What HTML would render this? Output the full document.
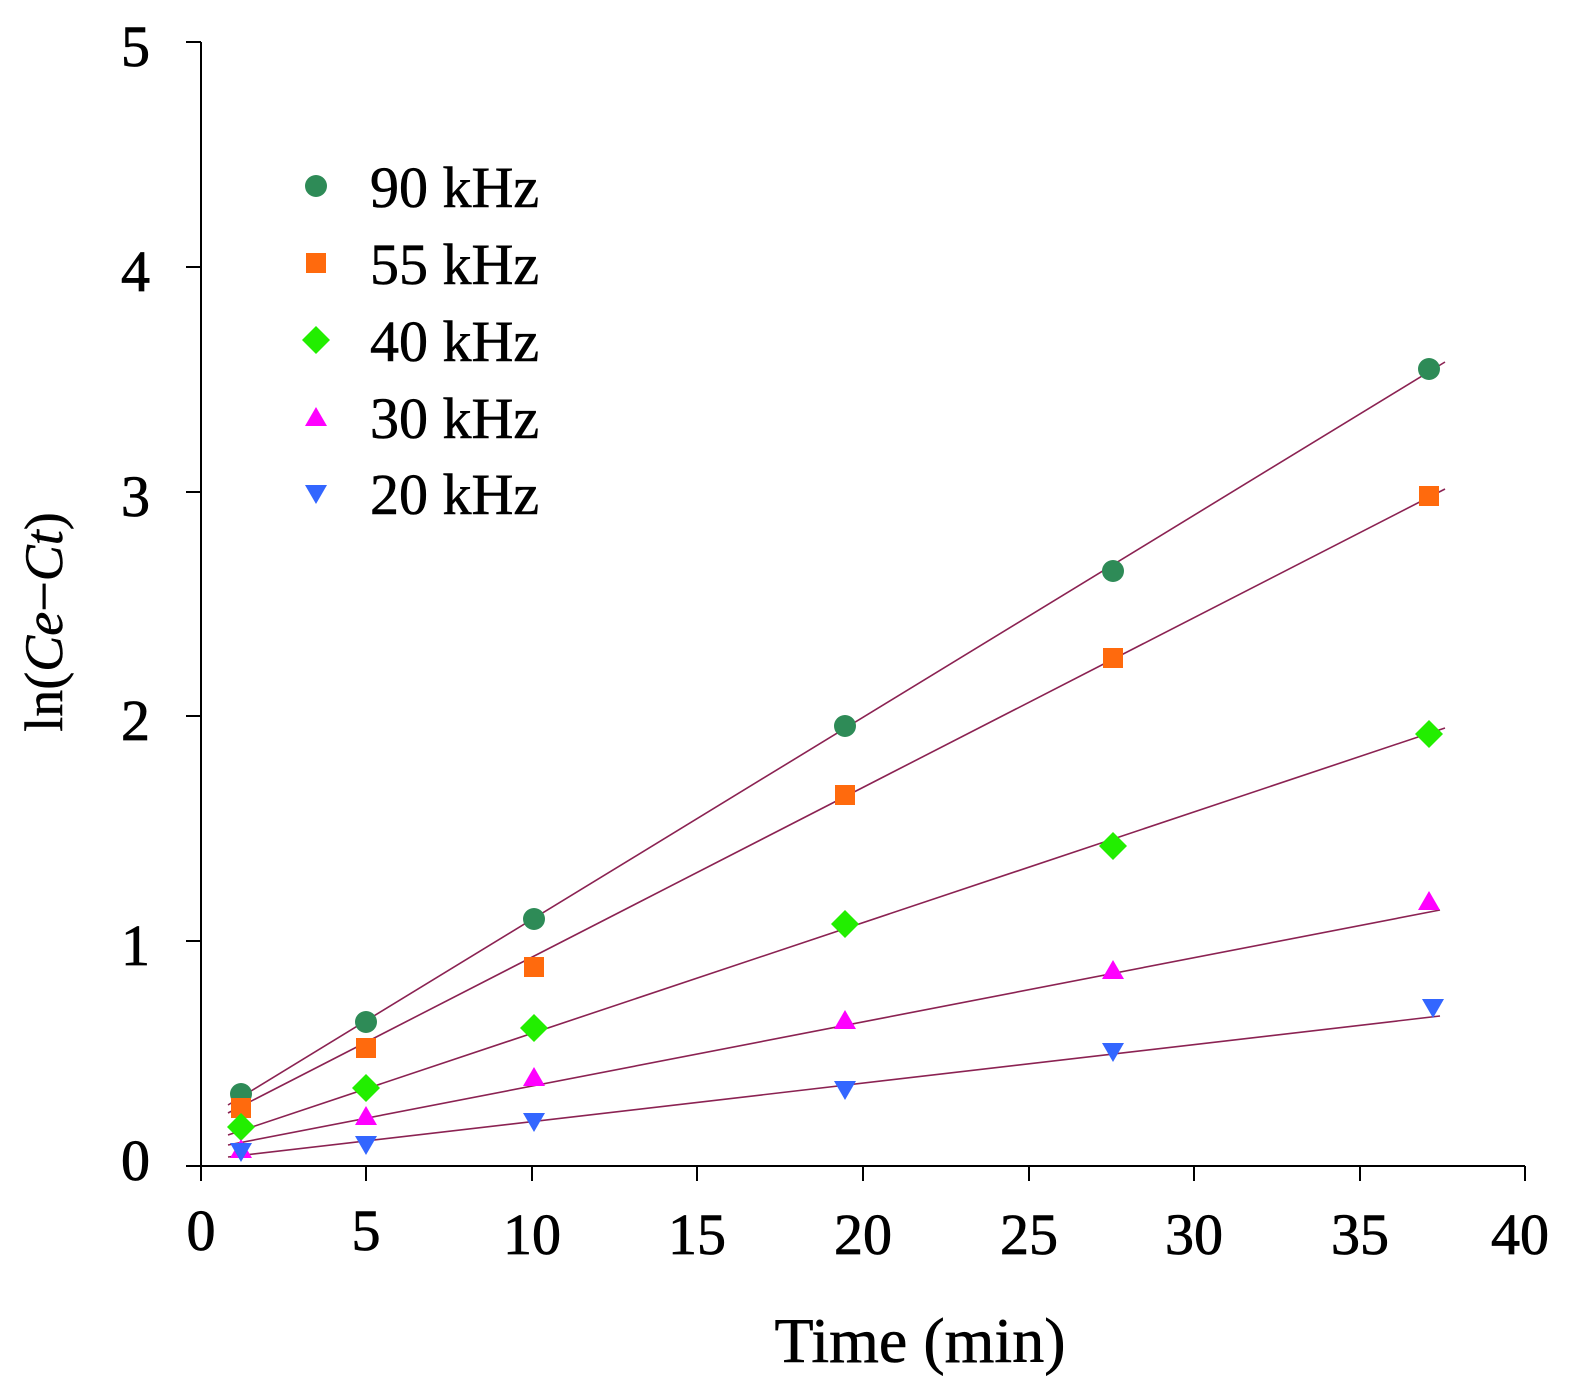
<!DOCTYPE html>
<html><head><meta charset="utf-8"><style>body{margin:0;background:#fff}svg{display:block}</style></head><body>
<svg width="1573" height="1388" xmlns="http://www.w3.org/2000/svg" font-family="Liberation Serif, serif">
<rect width="1573" height="1388" fill="#fff"/>
<g stroke="#000" stroke-width="2" fill="none">
<line x1="201" y1="42" x2="201" y2="1166"/>
<line x1="201" y1="1166" x2="1525" y2="1166"/>
<line x1="186" y1="42" x2="201" y2="42"/><line x1="186" y1="267" x2="201" y2="267"/><line x1="186" y1="492" x2="201" y2="492"/><line x1="186" y1="716" x2="201" y2="716"/><line x1="186" y1="941" x2="201" y2="941"/><line x1="186" y1="1166" x2="201" y2="1166"/>
<line x1="201" y1="1166" x2="201" y2="1181"/><line x1="366" y1="1166" x2="366" y2="1181"/><line x1="532" y1="1166" x2="532" y2="1181"/><line x1="697" y1="1166" x2="697" y2="1181"/><line x1="863" y1="1166" x2="863" y2="1181"/><line x1="1029" y1="1166" x2="1029" y2="1181"/><line x1="1194" y1="1166" x2="1194" y2="1181"/><line x1="1360" y1="1166" x2="1360" y2="1181"/><line x1="1525" y1="1166" x2="1525" y2="1181"/>
</g>
<g font-size="58" text-anchor="end" stroke="#000" stroke-width="0.8">
<text x="150" y="66">5</text><text x="150" y="291">4</text><text x="150" y="516">3</text><text x="150" y="740">2</text><text x="150" y="965">1</text><text x="150" y="1180">0</text>
</g>
<g font-size="58" text-anchor="middle" stroke="#000" stroke-width="0.8">
<text x="201" y="1250">0</text><text x="366" y="1250">5</text><text x="532" y="1254">10</text><text x="697" y="1254">15</text><text x="863" y="1254">20</text><text x="1029" y="1254">25</text><text x="1194" y="1254">30</text><text x="1360" y="1254">35</text><text x="1520" y="1254">40</text>
</g>
<text x="920" y="1362" font-size="64" text-anchor="middle" stroke="#000" stroke-width="0.6">Time (min)</text>
<text transform="translate(62,622) rotate(-90)" font-size="54" text-anchor="middle" stroke="#000" stroke-width="0.5">ln(<tspan font-style="italic">Ce</tspan>−<tspan font-style="italic">Ct</tspan>)</text>
<g stroke="#8b2252" stroke-width="1.6">
<line x1="228" y1="1105" x2="1445" y2="362"/>
<line x1="228" y1="1113" x2="1445" y2="489"/>
<line x1="228" y1="1135" x2="1445" y2="728"/>
<line x1="228" y1="1145" x2="1440" y2="910"/>
<line x1="228" y1="1157" x2="1440" y2="1016"/>
</g>
<g fill="#2e8b57">
<circle cx="241" cy="1094" r="11"/><circle cx="366" cy="1022" r="11"/><circle cx="534" cy="919" r="11"/><circle cx="845" cy="726" r="11"/><circle cx="1113" cy="571" r="11"/><circle cx="1429" cy="369" r="11"/>
<circle cx="316" cy="186" r="11"/>
</g>
<g fill="#ff6a0d">
<rect x="231" y="1098" width="20" height="20"/><rect x="356" y="1038" width="20" height="20"/><rect x="524" y="957" width="20" height="20"/><rect x="835" y="785" width="20" height="20"/><rect x="1103" y="648" width="20" height="20"/><rect x="1419" y="486" width="20" height="20"/>
<rect x="306" y="253" width="20" height="20"/>
</g>
<g fill="#22ee00">
<path d="M241 1113l14 14-14 14-14-14z"/><path d="M366 1074l14 14-14 14-14-14z"/><path d="M534 1014l14 14-14 14-14-14z"/><path d="M845 910l14 14-14 14-14-14z"/><path d="M1113 832l14 14-14 14-14-14z"/><path d="M1429 720l14 14-14 14-14-14z"/>
<path d="M316 326l14 14-14 14-14-14z"/>
</g>
<g fill="#ff00ff">
<path d="M241 1139l11 19h-22z"/><path d="M366 1106l11 19h-22z"/><path d="M534 1067l11 19h-22z"/><path d="M845 1010l11 19h-22z"/><path d="M1113 960l11 19h-22z"/><path d="M1429 891l11 19h-22z"/>
<path d="M316 407l11 19h-22z"/>
</g>
<g fill="#3366ff">
<path d="M230 1143h22l-11 19z"/><path d="M355 1136h22l-11 19z"/><path d="M523 1113h22l-11 19z"/><path d="M834 1081h22l-11 19z"/><path d="M1102 1043h22l-11 19z"/><path d="M1422 999h22l-11 19z"/>
<path d="M305 485h22l-11 19z"/>
</g>
<g font-size="58" stroke="#000" stroke-width="0.6">
<text x="370" y="207">90 kHz</text><text x="370" y="284">55 kHz</text><text x="370" y="361">40 kHz</text><text x="370" y="438">30 kHz</text><text x="370" y="514">20 kHz</text>
</g>
</svg>
</body></html>
